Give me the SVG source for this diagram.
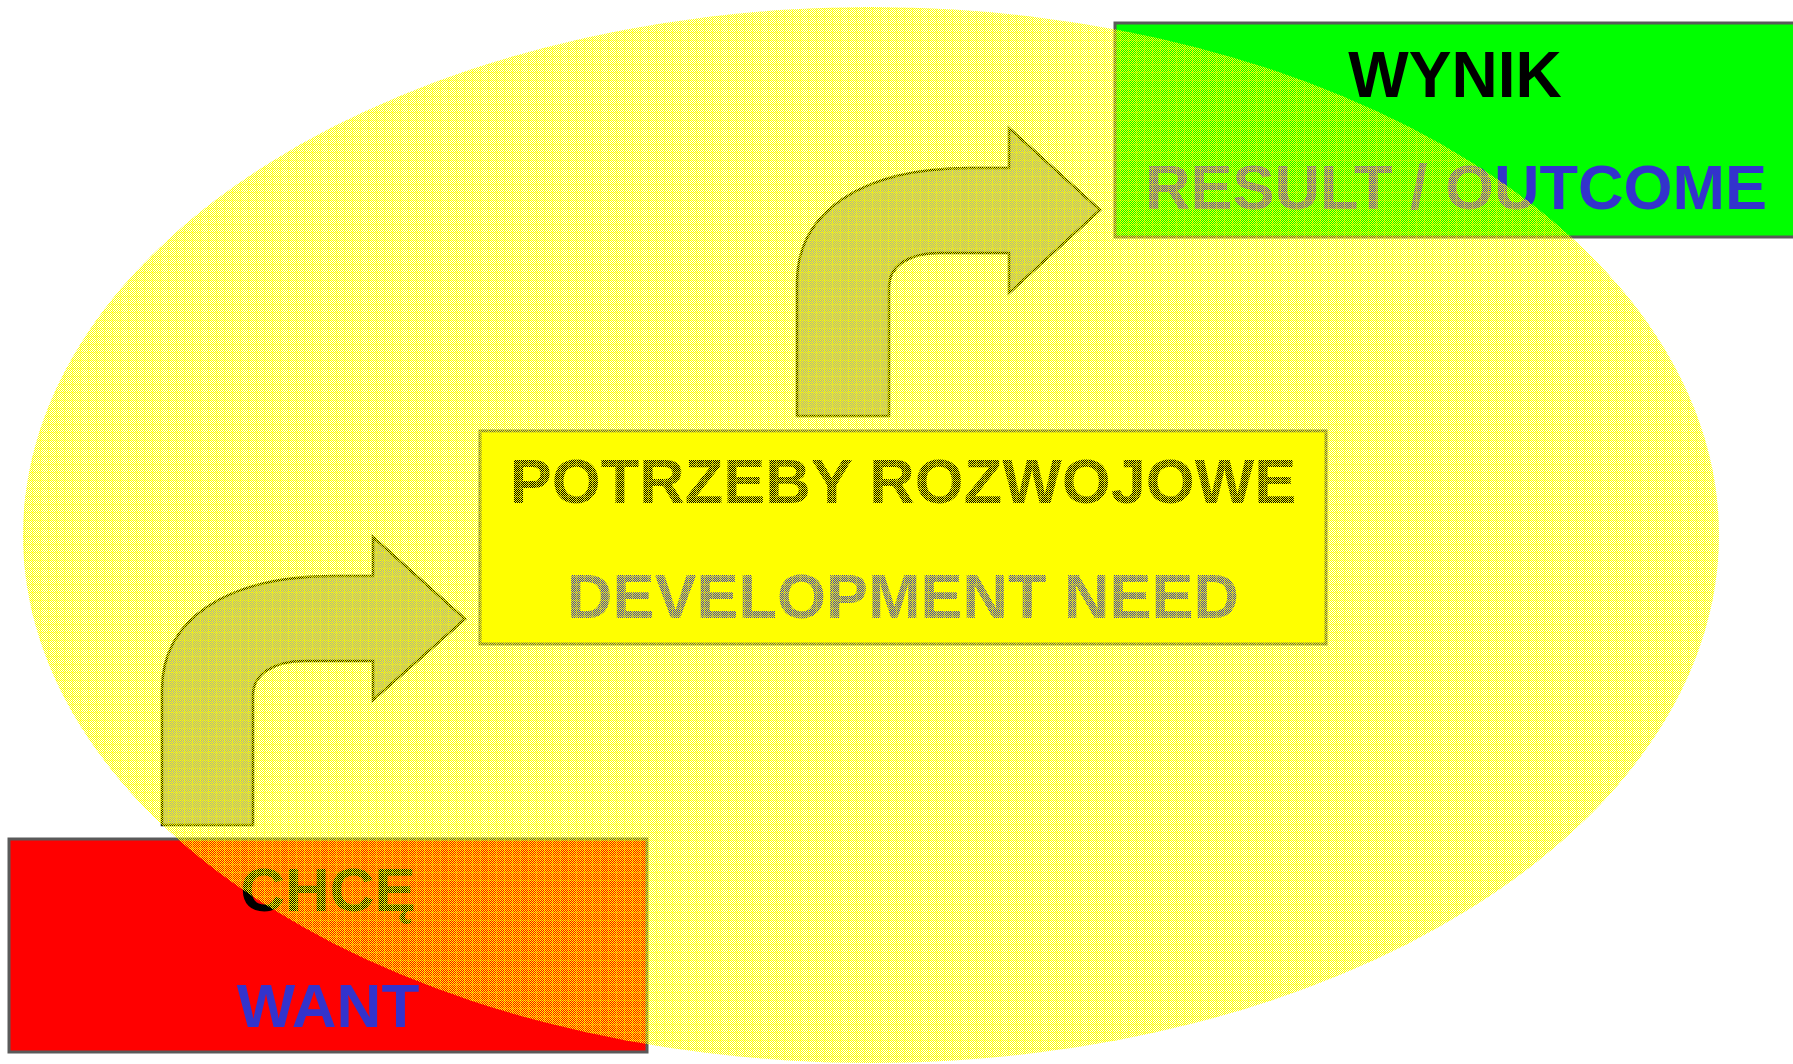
<svg xmlns="http://www.w3.org/2000/svg" width="1793" height="1064" viewBox="0 0 1793 1064">
  <style>
    .lbl { font-family: "Liberation Sans", Arial, sans-serif; font-weight: bold; text-anchor: middle; }
    .box { stroke: #5a5a5a; stroke-width: 3; }
    .arrow { fill: #a8a8a0; stroke: #1e1e08; stroke-width: 2.5; stroke-linejoin: miter; }
    .blk { fill: #000000; }
    .blu { fill: #3333cc; }
  </style>
  <defs>
    <pattern id="dither" x="0" y="0" width="2" height="2" patternUnits="userSpaceOnUse">
      <rect x="0" y="0" width="1" height="1" fill="#ffff00" shape-rendering="crispEdges"/>
      <rect x="1" y="1" width="1" height="1" fill="#ffff00" shape-rendering="crispEdges"/>
    </pattern>
    <pattern id="grid" x="0" y="0" width="8" height="8" patternUnits="userSpaceOnUse">
      <rect x="0" y="0" width="8" height="1" fill="#ffff00" fill-opacity="0.3" shape-rendering="crispEdges"/>
      <rect x="0" y="1" width="1" height="7" fill="#ffff00" fill-opacity="0.3" shape-rendering="crispEdges"/>
    </pattern>
  </defs>
  <rect x="0" y="0" width="1793" height="1064" fill="#ffffff"/>

  <g id="node-want">
    <rect class="box" x="9" y="839" width="638" height="213" fill="#ff0000"/>
    <text class="lbl blk" x="328" y="911" font-size="62">CHCĘ</text>
    <text class="lbl blu" x="328" y="1027" font-size="62">WANT</text>
  </g>

  <g id="node-need">
    <rect class="box" x="480" y="431" width="846" height="213" fill="#ffff00"/>
    <text class="lbl blk" x="903" y="503" font-size="63">POTRZEBY ROZWOJOWE</text>
    <text class="lbl blu" x="903" y="618" font-size="63">DEVELOPMENT NEED</text>
  </g>

  <g id="node-result">
    <rect class="box" x="1115" y="23" width="690" height="214" fill="#00ff00"/>
    <text class="lbl blk" x="1455" y="97" font-size="64">WYNIK</text>
    <text class="lbl blu" x="1456" y="209" font-size="63">RESULT / OUTCOME</text>
  </g>

  <g id="connectors">
    <path class="arrow" d="M162 825 L162 690 C162 620 225 576 335 576 L373 576 L373 537 L465 619 L373 700 L373 661 L305 661 C272 661 253 675 253 695 L253 825 Z"/>
    <path class="arrow" d="M797 416 L797 283 C797 213 860 168 970 168 L1009 168 L1009 128 L1100 210 L1009 293 L1009 253 L940 253 C907 253 889 267 889 287 L889 416 Z"/>
  </g>

  <g id="node-ellipse">
    <ellipse cx="871" cy="535" rx="848" ry="528" fill="url(#dither)"/>
    <ellipse cx="871" cy="535" rx="848" ry="528" fill="url(#grid)"/>
  </g>
</svg>
